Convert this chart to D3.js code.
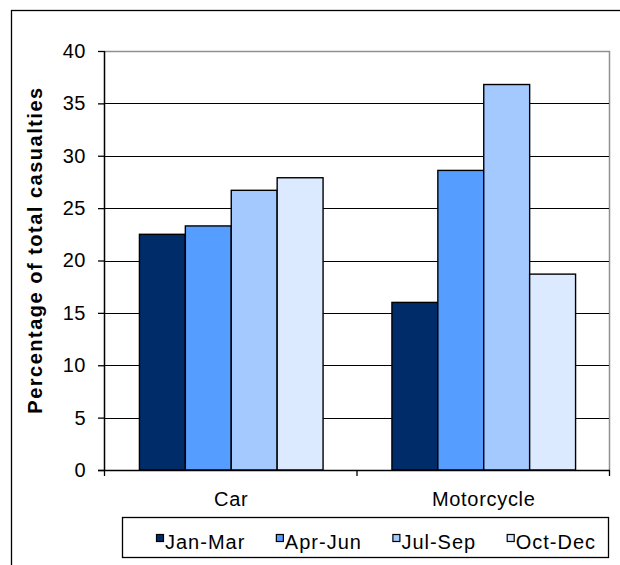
<!DOCTYPE html>
<html>
<head>
<meta charset="utf-8">
<script src="https://cdn.jsdelivr.net/npm/d3@7"></script>
<style>
  body { margin: 0; background: #fff; }
  svg { display: block; font-family: "Liberation Sans", Arial, sans-serif; }
</style>
</head>
<body>
<div id="chart"></div>
<script>
var categories = ["Car", "Motorcycle"];
var quarters = ["Jan-Mar", "Apr-Jun", "Jul-Sep", "Oct-Dec"];
var janMar = [22.5, 16.0];
var aprJun = [23.3, 28.6];
var julSep = [26.7, 36.8];
var octDec = [27.9, 18.7];
var yTicks = [0, 5, 10, 15, 20, 25, 30, 35, 40];
var colors = ["#002c6a", "#559dff", "#a3c9ff", "#dceaff"];

function init() {
    var series = [janMar, aprJun, julSep, octDec];
    var margin = { top: 51, left: 105 },
        width = 505,
        height = 419;

    var svg = d3.select("#chart")
        .append("svg")
        .attr("width", 620)
        .attr("height", 565);

    // outer chart frame (runs off the right and bottom edge)
    svg.append("rect")
        .attr("x", 11.5).attr("y", 10.5)
        .attr("width", 640).attr("height", 620)
        .attr("fill", "none")
        .attr("stroke", "#000")
        .attr("stroke-width", 1.3);

    var g = svg.append("g")
        .attr("transform", "translate(" + margin.left + "," + margin.top + ")");

    var x0 = d3.scaleBand()
        .domain(categories)
        .range([0, width]);

    var x1 = d3.scaleBand()
        .domain(quarters)
        .range([0, x0.bandwidth()])
        .paddingInner(0)
        .paddingOuter(0.75);

    var y = d3.scaleLinear()
        .domain([0, 40])
        .range([height, 0]);

    // plot area border (grey top / right)
    g.append("path")
        .attr("d", "M0,0.5H" + (width - 0.5) + "V" + height)
        .attr("fill", "none")
        .attr("stroke", "#909090")
        .attr("stroke-width", 1.5);

    // gridlines
    g.append("g")
        .selectAll("line")
        .data(yTicks.filter(function (d) { return d > 0 && d < 40; }))
        .enter()
        .append("line")
        .attr("x1", 0)
        .attr("x2", width - 1)
        .attr("y1", function (d) { return Math.round(y(d)) + 0.5; })
        .attr("y2", function (d) { return Math.round(y(d)) + 0.5; })
        .attr("stroke", "#000")
        .attr("stroke-width", 1.2);

    // bars
    var groups = g.append("g")
        .selectAll("g")
        .data(categories)
        .enter()
        .append("g")
        .attr("transform", function (d) { return "translate(" + x0(d) + ",0)"; });

    groups.selectAll("rect")
        .data(function (d, i) {
            return quarters.map(function (q, j) { return { q: q, v: series[j][i], c: colors[j] }; });
        })
        .enter()
        .append("rect")
        .attr("x", function (d) { return x1(d.q); })
        .attr("y", function (d) { return y(d.v); })
        .attr("width", x1.bandwidth())
        .attr("height", function (d) { return height - y(d.v); })
        .attr("fill", function (d) { return d.c; })
        .attr("stroke", "#000")
        .attr("stroke-width", 1.4);

    // y axis
    var yAxis = g.append("g")
        .call(d3.axisLeft(y).tickValues(yTicks).tickSize(7).tickPadding(12));
    yAxis.select(".domain").attr("stroke", "#000").attr("stroke-width", 1.5)
        .attr("d", "M-0.5,0V" + height);
    yAxis.selectAll(".tick line").attr("stroke", "#000").attr("stroke-width", 1.3);
    yAxis.selectAll(".tick text")
        .attr("fill", "#000")
        .style("font-size", "20px")
        .style("font-family", "'Liberation Sans', Arial, sans-serif")
        .style("letter-spacing", "0.5px");

    // x axis with ticks at category boundaries
    var xAxis = g.append("g")
        .attr("transform", "translate(0," + height + ")");
    xAxis.append("line")
        .attr("x1", -7).attr("x2", width)
        .attr("y1", 0.5).attr("y2", 0.5)
        .attr("stroke", "#000").attr("stroke-width", 1.5);
    xAxis.selectAll("line.tk")
        .data(categories.concat(["end"]))
        .enter()
        .append("line")
        .attr("class", "tk")
        .attr("x1", function (d) { return d === "end" ? width - 0.5 : x0(d) - 0.5; })
        .attr("x2", function (d) { return d === "end" ? width - 0.5 : x0(d) - 0.5; })
        .attr("y1", 0).attr("y2", 6)
        .attr("stroke", "#000").attr("stroke-width", 1.3);
    xAxis.selectAll("text")
        .data(categories)
        .enter()
        .append("text")
        .attr("x", function (d) { return x0(d) + x0.bandwidth() / 2; })
        .attr("y", 36)
        .attr("text-anchor", "middle")
        .style("font-size", "20px")
        .style("letter-spacing", "0.7px")
        .text(function (d) { return d; });

    // y axis title
    svg.append("text")
        .attr("transform", "translate(42,250) rotate(-90)")
        .attr("text-anchor", "middle")
        .style("font-size", "20px")
        .style("font-weight", "bold")
        .style("letter-spacing", "1.5px")
        .text("Percentage of total casualties");

    // legend
    var legend = svg.append("g");
    legend.append("rect")
        .attr("x", 122.5).attr("y", 517.5)
        .attr("width", 486).attr("height", 40)
        .attr("fill", "#fff")
        .attr("stroke", "#000")
        .attr("stroke-width", 1.3);

    var lx = 156;
    quarters.forEach(function (q, i) {
        legend.append("rect")
            .attr("x", lx + 0.5).attr("y", 534.5)
            .attr("width", 7).attr("height", 7)
            .attr("fill", colors[i])
            .attr("stroke", "#000")
            .attr("stroke-width", 1.2);
        var t = legend.append("text")
            .attr("x", lx + 9)
            .attr("y", 549)
            .style("font-size", "20px")
            .style("letter-spacing", "1px")
            .text(q);
        lx += 9 + t.node().getComputedTextLength() + 30.5;
    });
}

window.onload = init;
</script>
</body>
</html>
